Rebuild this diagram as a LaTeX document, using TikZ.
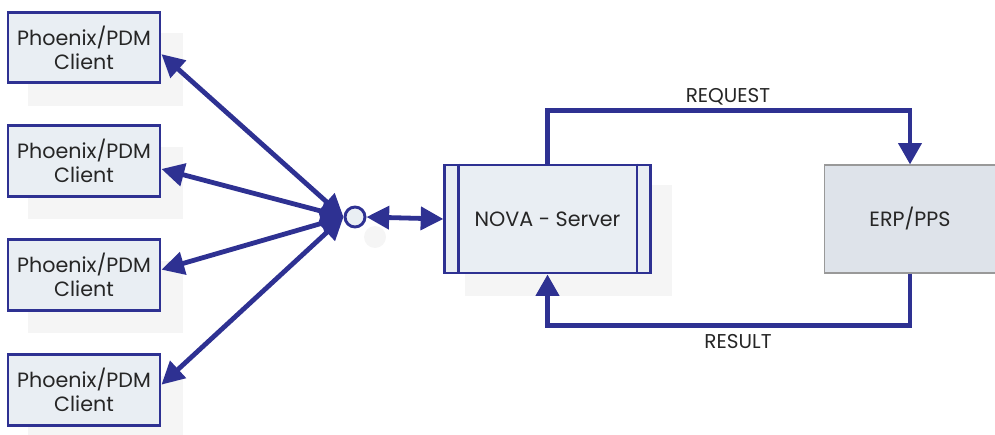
\documentclass[tikz,border=0pt]{standalone}
\usepackage{fontspec}
\setmainfont{Poppins}
\usetikzlibrary{arrows.meta}
\definecolor{novablue}{HTML}{2E3192}
\definecolor{boxfill}{HTML}{E9EEF3}
\definecolor{erpfill}{HTML}{DEE3EA}
\definecolor{shadowgray}{HTML}{F5F5F5}
\begin{document}
\begin{tikzpicture}[x=0.75pt,y=-0.75pt,
	client/.style={draw=novablue, line width=2.2pt, fill=boxfill, minimum width=114pt, minimum height=53pt, align=center, font=\fontsize{15.5}{18}\selectfont, text=black!85},
	conn/.style={draw=novablue, line width=3.6pt, {Triangle[length=17pt,width=17pt]}-{Triangle[length=17pt,width=17pt]}},
	flow/.style={draw=novablue, line width=3.6pt, -{Triangle[length=16pt,width=17pt]}}]
		\useasboundingbox (0,0) rectangle (995,435);

		% shadows
		\fill[shadowgray] (28,33) rectangle (183,106);
		\fill[shadowgray] (28,147) rectangle (183,219);
		\fill[shadowgray] (28,261) rectangle (183,333);
		\fill[shadowgray] (28,376) rectangle (183,435);
		\fill[shadowgray] (465,185) rectangle (672,296);
		\fill[shadowgray] (375,237) circle (11);

		\node[client] at (84, 47.5) (c1) {Phoenix/PDM\\Client};
		\node[client] at (84, 161) (c2) {Phoenix/PDM\\Client};
		\node[client] at (84, 275) (c3) {Phoenix/PDM\\Client};
		\node[client] at (84, 390) (c4) {Phoenix/PDM\\Client};

		\node[circle, draw=novablue, line width=2.2pt, fill=boxfill, minimum size=15pt, inner sep=0pt] at (355, 217) (hub) {};
		\node[draw=novablue, line width=2.2pt, fill=boxfill, minimum width=154pt, minimum height=81pt, font=\fontsize{15.5}{18}\selectfont, text=black!85] at (547.5, 219) (srv) {NOVA - Server};
		\node[draw=black!40, line width=0.8pt, fill=erpfill, minimum width=128pt, minimum height=81pt, font=\fontsize{15.5}{18}\selectfont, text=black!85] at (910, 219) (erp) {ERP/PPS};
		\node[font=\fontsize{15}{18}\selectfont, text=black!85] at (728, 97) (req) {REQUEST};
		\node[font=\fontsize{15}{18}\selectfont, text=black!85] at (738, 342) (res) {RESULT};

		\draw[novablue, line width=2.2pt] ([xshift=11pt]srv.north west) -- ([xshift=11pt]srv.south west);
		\draw[novablue, line width=2.2pt] ([xshift=-11pt]srv.north east) -- ([xshift=-11pt]srv.south east);

		\draw[conn] ([yshift=-5pt]c1.east) -- (hub.west);
		\draw[conn] ([yshift=-6pt]c2.east) -- (hub.west);
		\draw[conn] ([yshift=4pt]c3.east) -- (hub.west);
		\draw[conn] ([yshift=4pt]c4.east) -- (hub.west);
		\draw[conn] (hub.east) -- (srv.west);

		\draw[flow] (srv.north) -- ++(0,-53) -| (erp.north);
		\draw[flow] (erp.south) -- ++(0,52) -| (srv.south);

	\end{tikzpicture}
\end{document}
